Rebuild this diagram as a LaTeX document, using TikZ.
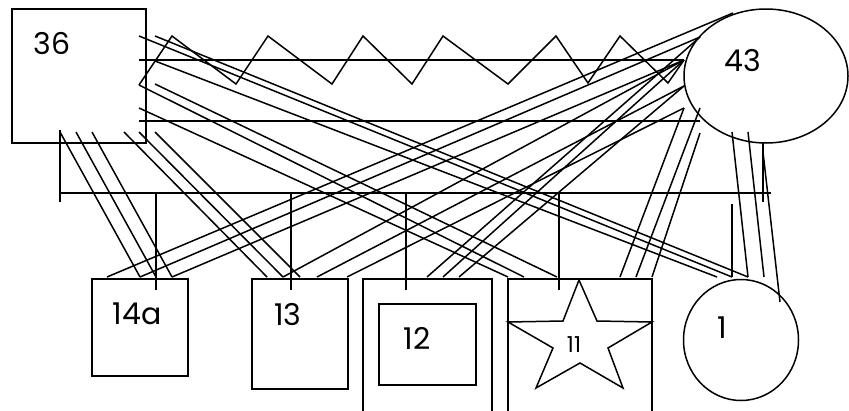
\documentclass[tikz,border=0pt]{standalone}
\usepackage{fontspec}
\setmainfont{Poppins}
\usetikzlibrary{shapes.geometric}

\begin{document}
\begin{tikzpicture}[x=1pt,y=-1pt,line width=1.5pt,
  every node/.style={font=\fontsize{30}{30}\selectfont,inner sep=0pt},
  person/.style={draw,rectangle,line width=1.5pt}]
  \useasboundingbox (0,0) rectangle (849,410);

  % parents
  \node[person,minimum width=134pt,minimum height=134pt] (f36) at (79,76) {};
  \node (t36) at (52,44) {36};
  \node[draw,ellipse,line width=1.5pt,minimum width=164pt,minimum height=134pt] (f43) at (766,76) {};
  \node (t43) at (743,61) {43};

  % children
  \node[person,minimum width=96pt,minimum height=97pt] (f14a) at (140,327.5) {};
  \node (t14a) at (137,314) {14a};
  \node[person,minimum width=96pt,minimum height=110pt] (f13) at (300,334) {};
  \node (t13) at (288,315) {13};
  \draw (363,413) -- (363,279) -- (492,279) -- (492,413);
  \node[person,minimum width=97pt,minimum height=81pt] (f12) at (427.5,344.5) {};
  \node (t12) at (417,338) {12};
  \draw (508,413) -- (508,279) -- (652,279) -- (652,413);
  \draw (579,280) -- (597,321) -- (652,322) -- (608,348) -- (623,388) -- (580,363)
    -- (536,388) -- (553,348) -- (508,322) -- (563,321) -- cycle;
  \node[font=\fontsize{22}{22}\selectfont] (t11) at (574,345) {11};
  \node[draw,ellipse,line width=1.5pt,minimum width=115pt,minimum height=121pt] (f1) at (741,340) {};
  \node (t1) at (722,328) {1};

  % points on the parents
  \coordinate (p36r1) at (139,36);  \coordinate (p36r2) at (155,36);
  \coordinate (p36r3) at (155,61);  \coordinate (p36r4) at (139,85);
  \coordinate (p36r5) at (155,84);  \coordinate (p36r6) at (139,108);
  \foreach \x [count=\i] in {60,76,92,124,139,155}
    \coordinate (p36b\i) at (\x,132);
  \coordinate (p43a) at (733,13);   \coordinate (p43b) at (700,37);
  \coordinate (p43c) at (684,60);   \coordinate (p43d) at (684,86);
  \coordinate (p43e) at (684,108);  \coordinate (p43f) at (700,108);
  \coordinate (p43g) at (700,133);  \coordinate (p43h) at (732,132);
  \coordinate (p43i) at (748,132);  \coordinate (p43j) at (763,152);

  % points on the children
  \foreach \x [count=\i] in {107,140,156,172}
    \coordinate (k14a\i) at (\x,277);
  \foreach \x [count=\i] in {267,283,300,317,347}
    \coordinate (k13\i) at (\x,277);
  \foreach \x [count=\i] in {427,443,459}
    \coordinate (k12\i) at (\x,277);
  \foreach \x [count=\i] in {508,524,557,620,636,652}
    \coordinate (k11\i) at (\x,277);
  \foreach \x [count=\i] in {717,732,748,764}
    \coordinate (k1\i) at (\x,277);
  \coordinate (k15) at (780,302);

  % couple lines
  \coordinate (m1) at (139,60);
  \coordinate (m2) at (139,121);  \coordinate (m3) at (700,121);
  \draw (m1) -- (p43c);
  \draw (m2) -- (m3);
  \draw (p36r4) -- (172,36) -- (236,84) -- (268,36) -- (332,84) -- (363,36)
    -- (412,84) -- (443,36) -- (508,84) -- (556,36) -- (588,83) -- (620,36)
    -- (668,83) -- (p43c);

  % sibling line and drops
  \coordinate (s1) at (60,193);  \coordinate (s2) at (771,193);
  \draw (s1) -- (s2);
  \coordinate (s3) at (60,130);  \coordinate (s4) at (60,202);
  \coordinate (s5) at (763,143); \coordinate (s6) at (763,202);
  \draw (s3) -- (s4);
  \draw (s5) -- (s6);
  \foreach \x [count=\i] in {156,291,406,559} {
    \coordinate (u\i) at (\x,193);
    \coordinate (v\i) at (\x,290);
    \draw (u\i) -- (v\i);
  }
  \coordinate (u5) at (732,204);
  \draw (u5) -- (k12);

  % lines from 36
  \foreach \a/\b in {p36b1/k14a2,p36b2/k14a3,p36b3/k14a4,p36b4/k131,p36b5/k132,
      p36b6/k133,p36r6/k111,p36r4/k112,p36r5/k113,p36r3/k11,p36r1/k12,p36r2/k13}
    \draw (\a) -- (\b);

  % lines from 43
  \foreach \a/\b in {p43a/k14a1,p43b/k14a2,p43c/k14a4,p43c/k132,p43d/k134,
      p43e/k135,p43b/k121,p43c/k122,p43d/k123,p43e/k114,p43f/k115,p43g/k116,
      p43h/k13,p43i/k14,p43j/k15}
    \draw (\a) -- (\b);
\end{tikzpicture}
\end{document}
